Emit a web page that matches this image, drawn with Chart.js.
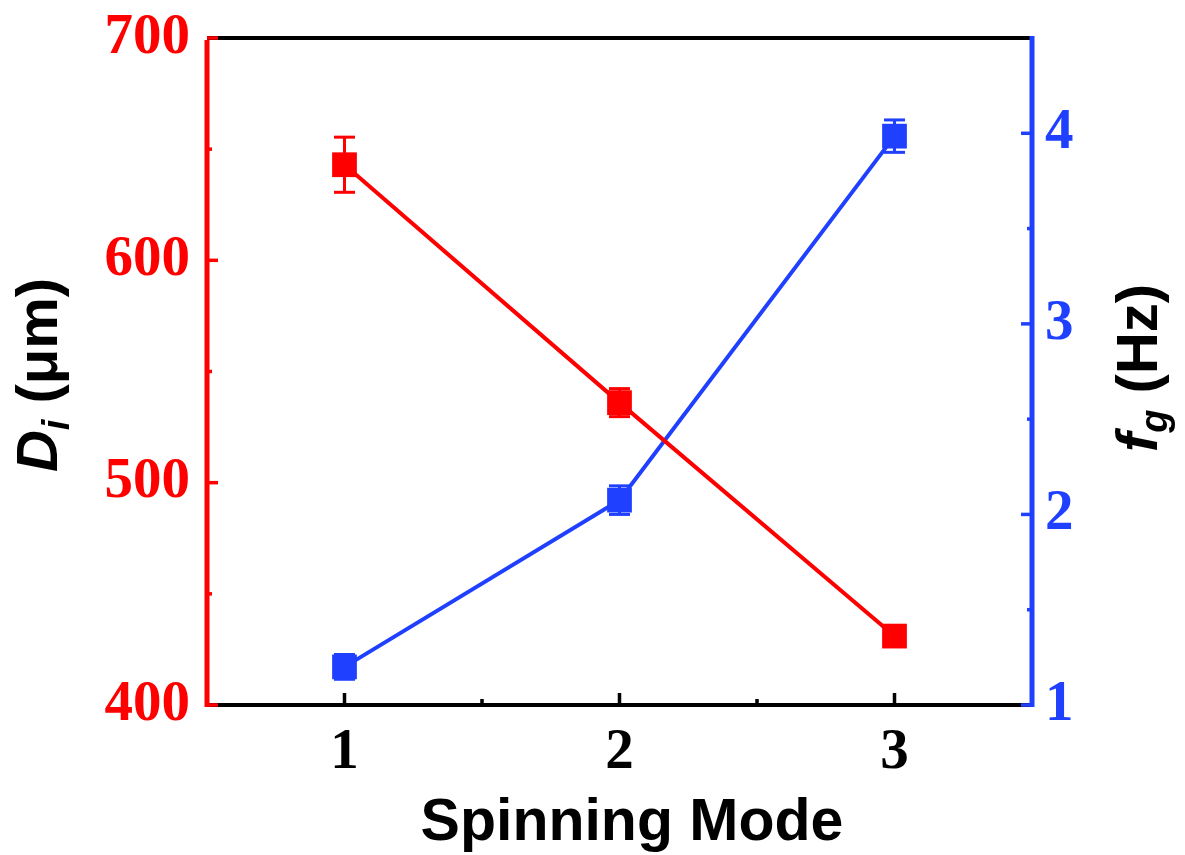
<!DOCTYPE html>
<html>
<head>
<meta charset="utf-8">
<script src="https://cdn.jsdelivr.net/npm/chart.js@4.4.1/dist/chart.umd.min.js"></script>
<style>
    html, body { margin: 0; padding: 0; background: #fff; }
    #wrap { width: 1185px; height: 855px; }
</style>
</head>
<body>
<div id="wrap"><canvas id="chart" width="1185" height="855"></canvas></div>
<script>
// ================= DATA =================
const modes = [1, 2, 3];
const diameter = [643, 536, 431];         // D_i (um)
const diameterErr = [12.4, 6.3, 3];
const freq = [1.2, 2.075, 3.985];         // f_g (Hz)
const freqErr = [0.065, 0.075, 0.085];

const xTicks = [1, 2, 3];
const xMinor = [1.5, 2.5];
const leftTicks = [400, 500, 600, 700];
const leftMinor = [450, 550, 650];
const rightTicks = [1, 2, 3, 4];
const rightMinor = [1.5, 2.5, 3.5];

const RED = '#ff0000';
const BLUE = '#2040ff';
const SERIF = '"Liberation Serif", "Times New Roman", serif';
const TICK_FONT = { family: SERIF, size: 57, weight: 'bold' };
// short line height so the top label does not push the plot area down
const TICK_FONT_Y = { family: SERIF, size: 57, weight: 'bold', lineHeight: 0.6 };
const SANS = '"Liberation Sans", Arial, sans-serif';

// ================= PLUGIN =================
const decor = {
    id: 'decor',
    beforeDatasetsDraw(chart) {
        const ctx = chart.ctx;
        const x = chart.scales.x;
        drawErrors(ctx, x, chart.scales.y, diameter, diameterErr, RED);
        drawErrors(ctx, x, chart.scales.y1, freq, freqErr, BLUE);
    },
    afterDraw(chart) {
        const ctx = chart.ctx;
        const a = chart.chartArea;
        const sx = chart.scales.x, sy = chart.scales.y, sy1 = chart.scales.y1;

        ctx.save();
        ctx.lineCap = 'butt';
        // top + bottom frame
        ctx.strokeStyle = '#000';
        ctx.lineWidth = 4;
        line(ctx, a.left, a.top, a.right, a.top);
        line(ctx, a.left, a.bottom, a.right, a.bottom);
        // left / right axes
        ctx.lineWidth = 5;
        ctx.strokeStyle = RED;
        line(ctx, a.left, a.top + 2, a.left, a.bottom + 2);
        ctx.strokeStyle = BLUE;
        line(ctx, a.right, a.top - 2, a.right, a.bottom + 2);

        // inward ticks
        ctx.lineWidth = 3.5;
        ctx.strokeStyle = '#000';
        xTicks.forEach(v => { const p = sx.getPixelForValue(v); line(ctx, p, a.bottom, p, a.bottom - 12); });
        xMinor.forEach(v => { const p = sx.getPixelForValue(v); line(ctx, p, a.bottom, p, a.bottom - 6); });
        ctx.strokeStyle = RED;
        leftTicks.forEach(v => { const p = sy.getPixelForValue(v); line(ctx, a.left, p, a.left + 11, p); });
        leftMinor.forEach(v => { const p = sy.getPixelForValue(v); line(ctx, a.left, p, a.left + 5, p); });
        ctx.strokeStyle = BLUE;
        rightTicks.forEach(v => { const p = sy1.getPixelForValue(v); line(ctx, a.right, p, a.right - 11, p); });
        rightMinor.forEach(v => { const p = sy1.getPixelForValue(v); line(ctx, a.right, p, a.right - 5, p); });

        // titles
        ctx.fillStyle = '#000';
        ctx.font = 'bold 59px ' + SANS;
        ctx.textAlign = 'center';
        ctx.textBaseline = 'alphabetic';
        ctx.fillText('Spinning Mode', 632, 840);

        drawTitle(ctx, 57, 375, [
            { t: 'D', f: 'italic bold 58px ' + SANS, dy: 0 },
            { t: 'i', f: 'italic bold 38px ' + SANS, dy: 12 },
            { t: ' (\u03bcm)', f: 'bold 58px ' + SANS, dy: 0 }
        ]);
        drawTitle(ctx, 1157, 368, [
            { t: 'f', f: 'italic bold 58px ' + SANS, dy: 0 },
            { t: 'g', f: 'italic bold 38px ' + SANS, dy: 10 },
            { t: ' (Hz)', f: 'bold 58px ' + SANS, dy: 0 }
        ]);
        ctx.restore();
    }
};

function line(ctx, x1, y1, x2, y2) {
    ctx.beginPath();
    ctx.moveTo(x1, y1);
    ctx.lineTo(x2, y2);
    ctx.stroke();
}

function drawErrors(ctx, sx, sy, vals, errs, color) {
    ctx.save();
    ctx.strokeStyle = color;
    ctx.lineWidth = 3;
    vals.forEach((v, i) => {
        const px = sx.getPixelForValue(modes[i]);
        const top = sy.getPixelForValue(v + errs[i]);
        const bot = sy.getPixelForValue(v - errs[i]);
        line(ctx, px, top, px, bot);
        line(ctx, px - 10.5, top, px + 10.5, top);
        line(ctx, px - 10.5, bot, px + 10.5, bot);
    });
    ctx.restore();
}

function drawTitle(ctx, baseX, centerY, parts) {
    ctx.save();
    ctx.translate(baseX, centerY);
    ctx.rotate(-Math.PI / 2);
    ctx.textAlign = 'left';
    ctx.textBaseline = 'alphabetic';
    let total = 0;
    parts.forEach(p => { ctx.font = p.f; p.w = ctx.measureText(p.t).width; total += p.w; });
    let x = -total / 2;
    parts.forEach(p => {
        ctx.font = p.f;
        ctx.fillText(p.t, x, p.dy);
        x += p.w;
    });
    ctx.restore();
}

// ================= CHART =================
function fixTicks(list) {
    return scale => { scale.ticks = list.map(v => ({ value: v })); };
}

new Chart(document.getElementById('chart').getContext('2d'), {
    type: 'line',
    data: {
        datasets: [
            {
                data: modes.map((m, i) => ({ x: m, y: diameter[i] })),
                yAxisID: 'y',
                borderColor: RED,
                backgroundColor: RED,
                borderWidth: 4,
                pointStyle: 'rect',
                pointRadius: 17.5,
                pointBorderWidth: 0,
                pointBackgroundColor: RED
            },
            {
                data: modes.map((m, i) => ({ x: m, y: freq[i] })),
                yAxisID: 'y1',
                borderColor: BLUE,
                backgroundColor: BLUE,
                borderWidth: 4,
                pointStyle: 'rect',
                pointRadius: 17.5,
                pointBorderWidth: 0,
                pointBackgroundColor: BLUE
            }
        ]
    },
    options: {
        responsive: false,
        animation: false,
        devicePixelRatio: 1,
        layout: { padding: { top: 38, left: 0, right: 0, bottom: 0 } },
        plugins: { legend: { display: false }, tooltip: { enabled: false } },
        scales: {
            x: {
                type: 'linear',
                min: 0.5,
                max: 3.5,
                afterBuildTicks: fixTicks(xTicks),
                afterFit: s => { s.height = 150; },
                grid: { display: false, drawTicks: false },
                border: { display: false },
                ticks: { color: '#000', font: TICK_FONT, padding: 14 }
            },
            y: {
                position: 'left',
                min: 400,
                max: 700,
                afterBuildTicks: fixTicks(leftTicks),
                afterFit: s => { s.width = 207; },
                grid: { display: false, drawTicks: false },
                border: { display: false },
                ticks: { color: RED, font: TICK_FONT_Y, padding: 17 }
            },
            y1: {
                position: 'right',
                min: 1,
                max: 4.5,
                afterBuildTicks: fixTicks(rightTicks),
                afterFit: s => { s.width = 153; },
                grid: { display: false, drawTicks: false },
                border: { display: false },
                ticks: { color: BLUE, font: TICK_FONT_Y, padding: 13 }
            }
        }
    },
    plugins: [decor]
});
</script>
</body>
</html>
